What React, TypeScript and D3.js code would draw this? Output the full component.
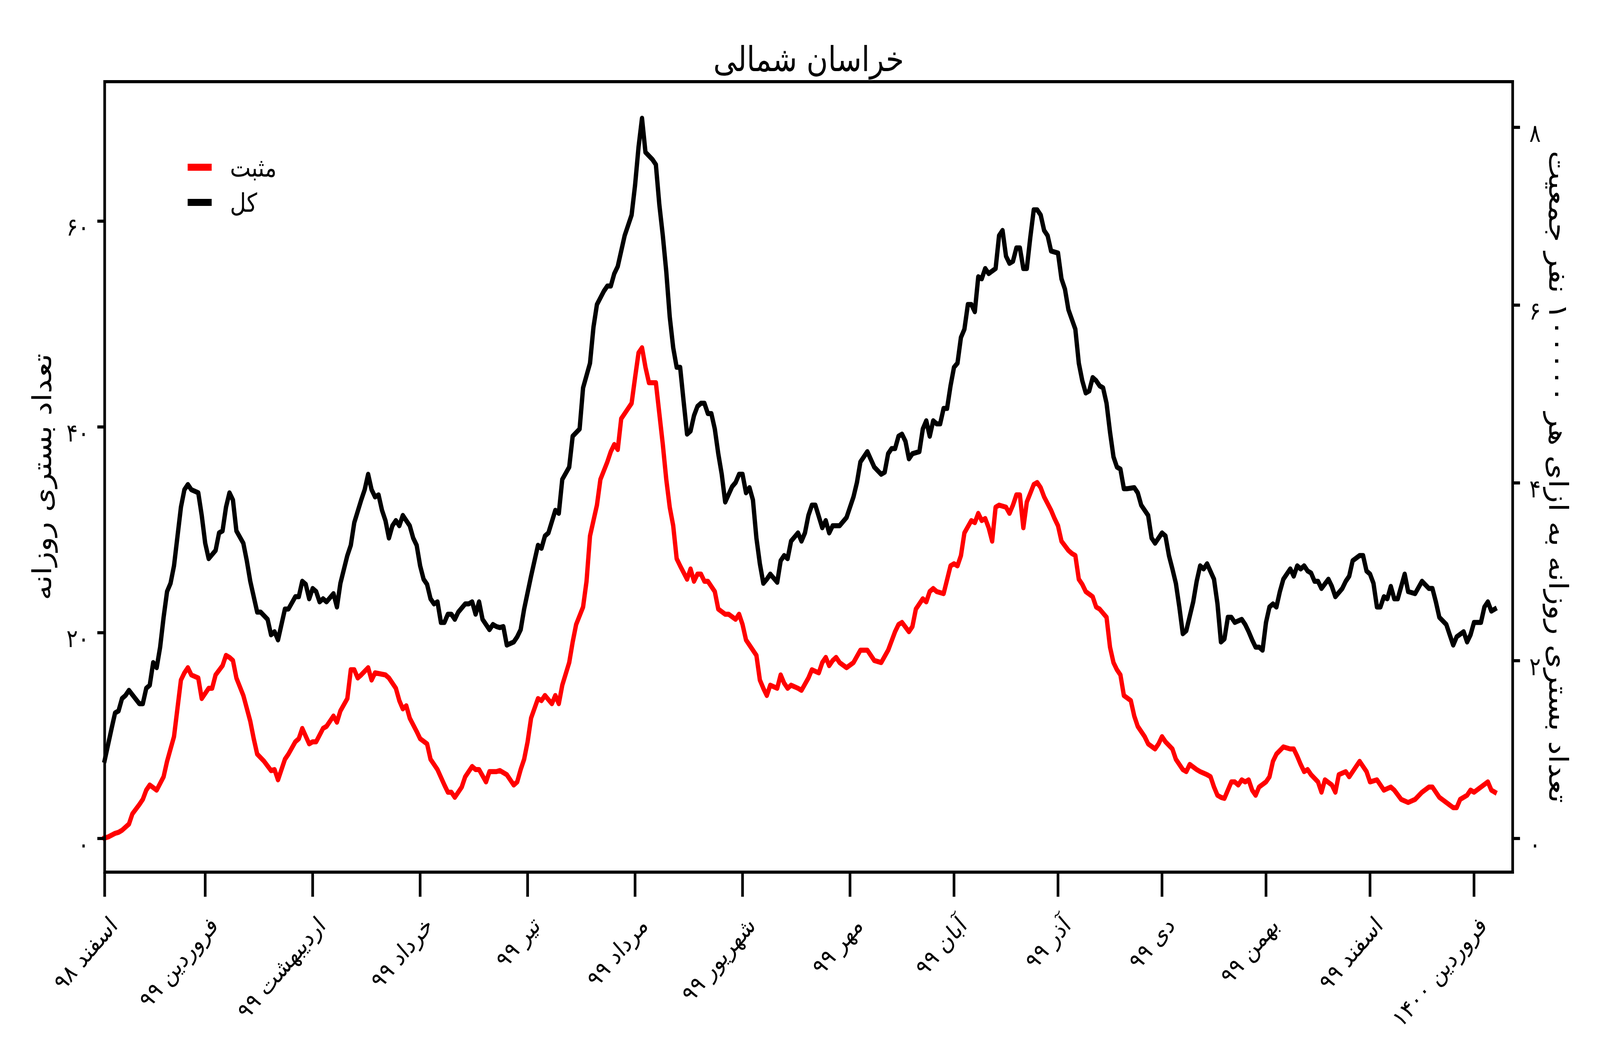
import * as d3 from "d3";

// layout of the figure (pixels)
const width = 4800;
const height = 2700;
const marginLeft = 314;
const marginRight = 4538;
const marginTop = 209;
const marginBottom = 2232;

const fontFamily = "'DejaVu Sans', sans-serif";

const title = "خراسان شمالی";
const leftAxisLabel = "تعداد بستری روزانه";
const rightAxisLabel = "تعداد بستری روزانه به ازای هر ۱۰۰۰۰۰ نفر جمعیت";
const seriesNames = ["مثبت", "کل"];
const seriesColors = ["#ff0000", "#000000"];

// population of the province / 100000, used for the right axis
const populationPer100k = 8.64;

// first day of every Persian month, counted from 1 Esfand 1398
const monthDays = [0, 29, 60, 91, 122, 153, 184, 215, 245, 275, 305, 335, 365, 395];
const monthLabels = [
  "اسفند ۹۸", "فروردین ۹۹", "اردیبهشت ۹۹", "خرداد ۹۹", "تیر ۹۹", "مرداد ۹۹",
  "شهریور ۹۹", "مهر ۹۹", "آبان ۹۹", "آذر ۹۹", "دی ۹۹", "بهمن ۹۹",
  "اسفند ۹۹", "فروردین ۱۴۰۰",
];

const leftTicks = [0, 20, 40, 60];
const rightTicks = [0, 2, 4, 6, 8];

// total daily hospitalisations (کل)
const totalDays = [
  0, 2, 3, 4, 5, 6, 7, 10, 11, 12, 13, 14, 15, 16, 17, 18, 19, 20, 22, 23, 24, 25, 27, 28, 29, 30,
  32, 33, 34, 35, 36, 37, 38, 40, 41, 42, 43, 44, 45, 47, 48, 49, 50, 52, 53, 55, 56, 57, 58, 59,
  60, 61, 62, 63, 64, 66, 67, 68, 70, 71, 72, 74, 75, 76, 77, 78, 79, 80, 81, 82, 83, 84, 85, 86,
  88, 89, 90, 91, 92, 93, 94, 95, 96, 97, 98, 99, 100, 101, 102, 104, 105, 106, 107, 108, 109, 111,
  112, 113, 114, 115, 116, 118, 119, 120, 121, 123, 124, 125, 126, 127, 128, 130, 131, 132, 134,
  135, 137, 138, 140, 141, 142, 144, 145, 146, 147, 148, 150, 152, 153, 154, 155, 156, 158, 159,
  160, 161, 162, 163, 164, 165, 166, 167, 168, 169, 170, 171, 172, 173, 174, 175, 176, 177, 178,
  179, 181, 182, 183, 184, 185, 186, 187, 188, 189, 190, 191, 192, 194, 195, 196, 197, 198, 200,
  201, 202, 203, 204, 205, 207, 208, 209, 210, 211, 212, 214, 216, 217, 218, 220, 222, 224, 225,
  226, 227, 228, 229, 230, 231, 232, 233, 235, 236, 237, 238, 239, 240, 241, 242, 243, 244, 245,
  246, 247, 248, 249, 250, 251, 252, 253, 254, 255, 257, 258, 259, 260, 261, 262, 263, 264, 265,
  266, 267, 268, 269, 270, 271, 272, 273, 275, 276, 277, 278, 280, 281, 282, 283, 284, 285, 286,
  287, 288, 289, 290, 291, 292, 293, 294, 295, 297, 298, 299, 301, 302, 303, 305, 306, 307, 308,
  309, 310, 311, 312, 314, 315, 316, 317, 318, 320, 321, 322, 323, 324, 325, 326, 328, 329, 330,
  331, 332, 333, 334, 335, 336, 337, 338, 339, 340, 342, 343, 344, 345, 346, 347, 348, 349, 350,
  351, 353, 354, 355, 357, 358, 359, 360, 362, 363, 364, 365, 366, 367, 368, 369, 370, 371, 372,
  373, 375, 376, 378, 380, 382, 383, 384, 385, 387, 388, 389, 390, 392, 393, 394, 395, 397, 398,
  399, 400, 401,
];
const totalValues = [
  7.6, 10.7, 12.2, 12.4, 13.6, 13.9, 14.4, 13.1, 13.1, 14.6, 14.9, 17.1, 16.6, 18.6, 21.5, 24.0,
  24.8, 26.5, 32.2, 33.9, 34.4, 33.9, 33.6, 31.4, 28.7, 27.2,
  28.0, 29.7, 29.9, 32.2, 33.6, 32.9, 29.9, 28.7, 27.0, 25.0, 23.5, 22.0, 22.0, 21.3, 19.8, 20.1,
  19.3, 22.3, 22.3, 23.5, 23.5, 25.0, 24.7, 23.3,
  24.3, 24.0, 23.0, 23.3, 23.0, 23.8, 22.5, 24.8, 27.5, 28.5, 30.7, 32.9, 33.9, 35.4, 33.9, 33.2,
  33.4, 31.9, 30.9, 29.2, 30.4, 30.9, 30.4, 31.4,
  30.4, 29.2, 28.5, 26.5, 25.2, 24.7, 23.3, 22.8, 23.0, 21.0, 21.0, 21.8, 21.8, 21.3, 22.0, 22.8,
  22.8, 23.0, 21.8, 23.0, 21.3, 20.3,
  20.8, 20.6, 20.5, 20.6, 18.8, 19.1, 19.6, 20.3, 22.3, 25.5, 27.0, 28.5, 28.2, 29.4, 29.7, 31.9,
  31.6, 34.9, 36.1,
  39.1, 39.8, 43.8, 46.2, 49.7, 51.9, 53.2, 53.7, 53.7, 54.9, 55.6, 58.6, 60.6, 63.5, 67.2, 70.0,
  66.7, 66.0, 65.5,
  61.6, 58.6, 55.1, 50.7, 47.7, 45.8, 45.8, 42.5, 39.3, 39.6, 41.1, 42.0, 42.3, 42.3, 41.3, 41.3,
  39.8, 37.4, 35.4,
  32.7, 34.2, 34.6, 35.4, 35.4, 33.6, 34.1, 32.9, 29.2, 26.7, 24.8, 25.2, 25.7, 24.9, 27.0, 27.5,
  27.2, 28.9, 29.7,
  28.9, 29.7, 31.4, 32.4, 32.4, 30.2, 30.9, 29.7, 30.4, 30.4, 30.4, 31.2, 33.2, 34.6, 36.6, 37.6,
  36.1, 35.4, 35.6,
  37.4, 37.9, 37.9, 39.1, 39.3, 38.6, 36.9, 37.4, 37.6, 39.8, 40.6, 39.1, 40.6, 40.3, 40.3, 41.8,
  41.8, 44.0, 45.8,
  46.2, 48.7, 49.5, 51.9, 51.9, 51.2, 54.6, 54.4, 55.4, 54.9, 55.4, 58.6, 59.1, 56.6, 55.9, 56.1,
  57.4, 57.4, 55.4,
  55.4, 58.4, 61.1, 61.1, 60.6, 59.1, 58.6, 57.1, 56.9, 54.4, 53.4, 51.4, 49.5, 46.2, 44.5, 43.3,
  43.5, 44.8, 44.5,
  44.0, 43.8, 42.3, 39.5, 37.1, 36.1, 35.9, 34.0, 34.0, 34.1, 33.6, 32.4, 31.4, 29.2, 28.7, 29.7,
  29.4, 27.5, 26.2,
  24.8, 22.5, 19.9, 20.2, 23.0, 25.0, 26.5, 26.2, 26.7, 25.2, 22.8, 19.1, 19.4, 21.5, 21.5, 21.0,
  21.3, 20.8, 20.1,
  19.3, 18.6, 18.6, 18.3, 21.0, 22.5, 22.8, 22.5, 24.0, 25.2, 26.2, 25.5, 26.5, 26.2, 26.5, 26.0,
  25.8, 25.0, 25.0,
  24.3, 25.2, 24.5, 23.5, 24.3, 25.0, 25.5, 27.0, 27.5, 27.5, 26.0, 25.7, 24.8, 22.5, 22.5, 23.5,
  23.3, 24.5, 23.3,
  23.3, 25.7, 24.0, 23.8, 25.0, 24.3, 24.3, 23.0, 21.5, 20.8, 19.8, 18.8, 19.6, 20.1, 19.1, 19.8,
  21.0, 21.0, 22.5,
  23.0, 22.1, 22.3,
];

// daily hospitalisations with a positive test (مثبت)
const positiveDays = [
  0, 1, 3, 4, 5, 7, 8, 10, 11, 12, 13, 15, 17, 18, 19, 20, 22, 23, 24, 25, 27, 28, 30, 31, 32, 34,
  35, 36, 37, 38, 40, 42, 43, 44, 46, 48, 49, 50, 52, 53, 55, 56, 57, 59, 60, 61, 63, 64, 66, 67,
  68, 70, 71, 72, 73, 74, 76, 77, 78, 81, 82, 84, 85, 86, 87, 88, 90, 91, 93, 94, 95, 96, 98, 99,
  100, 101, 103, 104, 106, 107, 108, 110, 111, 113, 114, 116, 118, 119, 120, 121, 122, 123, 125,
  126, 127, 129, 130, 131, 132, 134, 135, 136, 138, 139, 140, 142, 143, 145, 146, 147, 148, 149,
  151, 152, 153, 154, 155, 156, 157, 159, 160, 161, 162, 163, 164, 165, 166, 168, 169, 170, 171,
  172, 173, 174, 176, 177, 179, 180, 182, 183, 184, 185, 186, 188, 189, 190, 191, 192, 194, 195,
  196, 197, 198, 200, 201, 203, 204, 206, 207, 208, 209, 210, 211, 212, 214, 216, 218, 220, 222,
  224, 226, 228, 229, 230, 232, 233, 234, 236, 237, 238, 239, 240, 242, 244, 245, 246, 247, 248,
  250, 251, 252, 253, 254, 255, 256, 257, 258, 260, 261, 262, 263, 264, 265, 266, 268, 269, 270,
  271, 273, 274, 275, 276, 278, 279, 280, 281, 282, 283, 285, 286, 287, 289, 290, 291, 292, 293,
  294, 296, 297, 298, 300, 301, 303, 304, 305, 306, 308, 309, 311, 312, 313, 315, 316, 318, 319,
  320, 321, 322, 323, 324, 325, 326, 327, 328, 329, 330, 331, 332, 333, 335, 336, 337, 338, 340,
  342, 343, 344, 345, 346, 347, 348, 350, 351, 352, 354, 355, 356, 358, 359, 361, 362, 364, 365,
  367, 369, 371, 372, 374, 376, 378, 380, 382, 383, 385, 387, 389, 390, 391, 393, 394, 395, 397,
  399, 400, 401,
];
const positiveValues = [
  0.05, 0.15, 0.5, 0.6, 0.8, 1.4, 2.4, 3.3, 3.8, 4.7, 5.2, 4.7, 6.0, 7.5, 8.7, 9.9, 15.4, 16.1,
  16.6, 15.9, 15.6, 13.6, 14.6, 14.6, 15.9, 16.8,
  17.8, 17.6, 17.3, 15.6, 13.9, 11.4, 9.7, 8.2, 7.5, 6.6, 6.7, 5.7, 7.7, 8.2, 9.4, 9.7, 10.7, 9.2,
  9.4, 9.4, 10.7, 10.9, 11.9, 11.3,
  12.4, 13.6, 16.4, 16.4, 15.6, 15.9, 16.6, 15.4, 16.1, 15.9, 15.6, 14.6, 13.4, 12.6, 12.9, 11.7,
  10.4, 9.7, 9.2, 7.7, 7.2, 6.7, 5.2, 4.5,
  4.5, 4.0, 5.0, 6.0, 7.0, 6.7, 6.7, 5.5, 6.5, 6.5, 6.6, 6.2, 5.2, 5.5, 6.7, 7.7, 9.4, 11.7, 13.6,
  13.4, 13.9, 13.1, 13.9, 13.1, 14.9, 17.1, 19.1, 20.8, 22.5, 25.0, 29.4, 32.4, 34.9, 36.6, 37.6,
  38.3, 37.8, 40.8,
  41.8, 42.3, 44.8, 47.2, 47.7, 45.8, 44.3, 44.3, 41.3, 38.3, 34.9, 32.2, 30.4, 27.2, 26.5, 25.2,
  26.2, 25.0, 25.7,
  25.7, 25.0, 25.0, 24.0, 22.3, 21.8, 21.8, 21.3, 21.8, 20.8, 19.3, 18.8, 17.8, 15.4, 14.6, 13.9,
  14.9, 14.6, 15.9,
  15.1, 14.6, 14.9, 14.6, 14.4, 15.6, 16.4, 16.1, 17.1, 17.6, 16.8, 17.3, 17.6, 17.1, 16.6, 17.1,
  18.3, 18.3, 17.3,
  17.1, 18.3, 20.1, 20.8, 21.0, 20.1, 20.6, 22.3, 23.3, 23.0, 24.0, 24.3, 24.0, 23.8, 26.5, 26.7,
  26.5, 27.5, 29.7,
  30.9, 30.7, 31.6, 30.9, 31.1, 30.2, 28.9, 32.2, 32.4, 32.2, 31.6, 32.4, 33.4, 33.4, 30.2, 32.7,
  34.4, 34.6, 34.1,
  33.2, 31.9, 31.1, 30.4, 28.9, 28.0, 27.7, 27.5, 25.2, 24.7, 24.0, 23.5, 22.5, 22.3, 21.5, 18.6,
  17.1, 16.4, 15.9,
  13.9, 13.4, 11.9, 10.9, 9.9, 9.2, 8.7, 9.2, 9.9, 9.4, 8.7, 7.7, 6.7, 6.5, 7.2, 6.7, 6.5, 6.2, 6.0,
  5.0, 4.2, 4.0, 3.9, 4.7, 5.5, 5.5, 5.2, 5.7, 5.5, 5.7, 4.7, 4.2, 5.0, 5.5, 6.0, 7.5, 8.2, 8.9,
  8.7, 8.7, 8.0, 7.2, 6.5, 6.7, 6.2, 5.5, 4.5, 5.7, 5.2, 4.5, 6.2, 6.5, 6.0, 7.0, 7.5, 6.5, 5.5,
  5.7, 4.7, 5.0, 4.7, 3.8, 3.5, 3.8, 4.5, 5.0, 5.0, 4.0, 3.5, 3.0, 3.0, 3.8, 4.2, 4.7, 4.5, 5.0,
  5.5, 4.7, 4.5,
];

const toPersianDigits = (n: number | string) =>
  String(n).replace(/\d/g, (d) => "۰۱۲۳۴۵۶۷۸۹"[+d]);

export default function App() {
  const x = d3.scaleLinear([0, 406.15], [marginLeft, marginRight]);
  const y = d3.scaleLinear([-3.27, 73.56], [marginBottom, marginTop]);
  const yRight = d3.scaleLinear(
    [-3.27 / populationPer100k, 73.56 / populationPer100k],
    [marginBottom, marginTop]
  );

  const line = d3.line<[number, number]>()
    .x((d) => x(d[0]))
    .y((d) => y(d[1]));

  const positive = positiveDays.map((d, i) => [d, positiveValues[i]] as [number, number]);
  const total = totalDays.map((d, i) => [d, totalValues[i]] as [number, number]);

  const midY = (marginTop + marginBottom) / 2;
  const tickFont = 64;

  return (
    <div style={{ position: "fixed", left: 0, top: 0, width: "100vw", height: "100vh", background: "#fff", overflow: "hidden" }}>
      <svg viewBox={`0 0 ${width} ${height}`} width="100%" height="100%"
        preserveAspectRatio="none" style={{ display: "block" }} fontFamily={fontFamily}>
        <rect width={width} height={height} fill="#fff" />

        {/* series */}
        <path d={line(positive) ?? undefined} fill="none" stroke={seriesColors[0]}
          strokeWidth={13} strokeLinejoin="round" strokeLinecap="square" />
        <path d={line(total) ?? undefined} fill="none" stroke={seriesColors[1]}
          strokeWidth={13} strokeLinejoin="round" strokeLinecap="square" />

        {/* frame */}
        <rect x={marginLeft} y={marginTop} width={marginRight - marginLeft}
          height={marginBottom - marginTop} fill="none" stroke="#000" strokeWidth={8} />

        {/* left axis */}
        {leftTicks.map((t) => (
          <g key={`l${t}`}>
            <line x1={marginLeft - 22} x2={marginLeft} y1={y(t)} y2={y(t)} stroke="#000" strokeWidth={8} />
            <text x={marginLeft - 46} y={y(t) + 37} fontSize={tickFont} textAnchor="end">
              {toPersianDigits(t)}
            </text>
          </g>
        ))}

        {/* right axis */}
        {rightTicks.map((t) => (
          <g key={`r${t}`}>
            <line x1={marginRight} x2={marginRight + 22} y1={yRight(t)} y2={yRight(t)} stroke="#000" strokeWidth={8} />
            <text x={marginRight + 50} y={yRight(t) + 37} fontSize={tickFont} textAnchor="start">
              {toPersianDigits(t)}
            </text>
          </g>
        ))}

        {/* bottom axis */}
        {monthDays.map((d, i) => (
          <g key={`m${d}`}>
            <line x1={x(d)} x2={x(d)} y1={marginBottom} y2={marginBottom + 63} stroke="#000" strokeWidth={8} />
            <text transform={`translate(${x(d) + 42},${2372}) rotate(-45)`}
              fontSize={62} textAnchor="end">
              {monthLabels[i]}
            </text>
          </g>
        ))}

        {/* axis titles */}
        <text transform={`translate(126,${midY}) rotate(-90)`} fontSize={79}
          textAnchor="middle" dominantBaseline="central">
          {leftAxisLabel}
        </text>
        <text transform={`translate(4675,${midY}) rotate(90)`} fontSize={79}
          textAnchor="middle" dominantBaseline="central">
          {rightAxisLabel}
        </text>

        {/* title */}
        <text x={(marginLeft + marginRight) / 2} y={182} fontSize={88} textAnchor="middle">
          {title}
        </text>

        {/* legend */}
        {seriesNames.map((name, i) => (
          <g key={name} transform={`translate(0,${428 + i * 90})`}>
            <line x1={572} x2={626} y1={0} y2={0} stroke={seriesColors[i]}
              strokeWidth={18} strokeLinecap="square" />
            <text x={690} y={24} fontSize={66} textAnchor="start">{name}</text>
          </g>
        ))}
      </svg>
    </div>
  );
}
